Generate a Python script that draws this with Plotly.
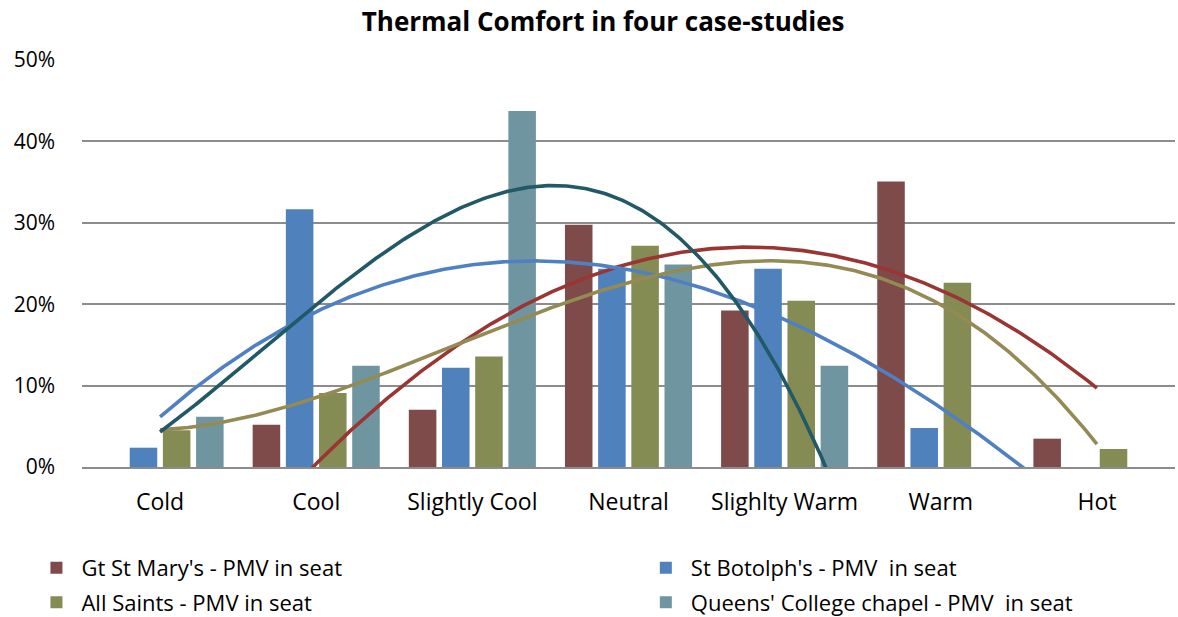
import numpy as np
import plotly.graph_objects as go

categories = ["Cold", "Cool", "Slightly Cool", "Neutral", "Slighlty Warm", "Warm", "Hot"]
series_names = [
    "Gt St Mary's - PMV in seat",
    "St Botolph's - PMV  in seat",
    "All Saints - PMV in seat",
    "Queens' College chapel - PMV  in seat",
]
# None = no responses in that category (blank cell)
gt_st_marys = [None, 0.052, 0.0704, 0.2975, 0.1923, 0.3507, 0.0348]
st_botolphs = [0.0237, 0.3167, 0.1219, 0.2435, 0.2435, 0.0479, None]
all_saints = [0.045, 0.0908, 0.1358, 0.2717, 0.2042, 0.2263, 0.0221]
queens_college = [0.0618, 0.1244, 0.4374, 0.2488, 0.1244, None, None]
trend_orders = [2, 3, 3, 3]  # polynomial trendline order per series
y_ticks = [0.0, 0.1, 0.2, 0.3, 0.4, 0.5]

bar_colors = ["#7F4A4A", "#4F81BD", "#848C54", "#6F96A0"]
trend_colors = ["#993633", "#4F81C2", "#948A54", "#215967"]
legend_ids = ["legend", "legend2", "legend", "legend2"]

FONT = "Open Sans"
xs = np.arange(1, len(categories) + 1)
data = [gt_st_marys, st_botolphs, all_saints, queens_college]

fig = go.Figure()
for i, (name, vals, col, lg) in enumerate(zip(series_names, data, bar_colors, legend_ids)):
    fig.add_trace(go.Bar(x=xs, y=vals, name=name, legend=lg, legendgroup=f"g{i}",
                         marker=dict(color=col, line=dict(width=0))))

# polynomial trendlines fitted to each series' non-blank points
xf = np.linspace(1, len(categories), 400)
for name, vals, col, order in zip(series_names, data, trend_colors, trend_orders):
    px = np.array([x for x, v in zip(xs, vals) if v is not None], float)
    py = np.array([v for v in vals if v is not None], float)
    coef = np.polyfit(px, py, order)
    fig.add_trace(go.Scatter(x=xf, y=np.polyval(coef, xf), mode="lines",
                             line=dict(color=col, width=3.6), showlegend=False,
                             hoverinfo="skip", name=name + " trend"))

W, H = 1178, 617
leg_common = dict(orientation="v", xref="container", yref="container", xanchor="left",
                  yanchor="top", tracegroupgap=3, itemwidth=40, bgcolor="rgba(0,0,0,0)",
                  font=dict(family=FONT, size=22, color="#000000"))
fig.update_layout(
    width=W, height=H,
    paper_bgcolor="white", plot_bgcolor="white",
    margin=dict(l=82, r=3, t=60, b=150, autoexpand=False),
    barmode="group", bargap=0.15, bargroupgap=0.17,
    font=dict(family=FONT, size=21, color="#000000"),
    title=dict(text="<b>Thermal Comfort in four case-studies</b>", x=0.512, xanchor="center",
               y=0.964, yanchor="middle", font=dict(family=FONT, size=26, color="#000000")),
    showlegend=True,
    legend=dict(x=0.0267, y=0.1135, **leg_common),
    legend2=dict(x=0.544, y=0.1135, **leg_common),
)
fig.update_xaxes(range=[0.5, len(categories) + 0.5], tickvals=xs, ticktext=categories,
                 showgrid=False, showline=True, linecolor="#8C8C8C", linewidth=1.5,
                 ticks="", ticklabelstandoff=14, zeroline=False, automargin=False,
                 tickfont=dict(family=FONT, size=23))
fig.update_yaxes(range=[0, 0.5], tickvals=y_ticks, tickformat=".0%", showgrid=True,
                 gridcolor="#8C8C8C", gridwidth=1.5, zeroline=False, showline=False,
                 ticks="", ticklabelstandoff=26, automargin=False,
                 tickfont=dict(family=FONT, size=21))

# remove the default 8px page margin so the figure fills the window exactly
fig.write_html("out.html", config={"displayModeBar": False},
               post_script="document.body.style.margin='0px';")
